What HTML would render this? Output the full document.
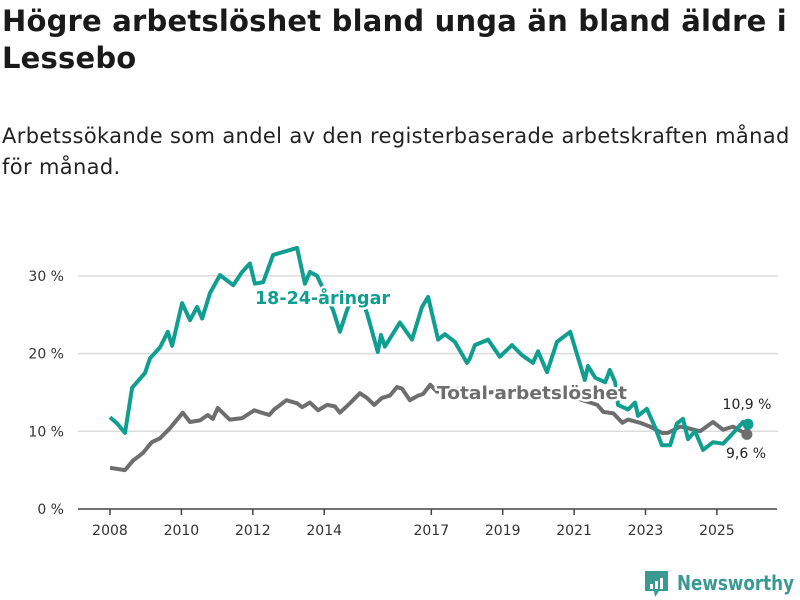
<!DOCTYPE html>
<html><head><meta charset="utf-8">
<style>
body{margin:0;background:#fff;width:800px;height:600px;overflow:hidden;font-family:"DejaVu Sans","Liberation Sans",sans-serif;}
#title{position:absolute;left:2px;top:3px;font-size:29px;font-weight:bold;color:#1a1a1a;line-height:37px;width:798px;margin:0;white-space:nowrap;letter-spacing:0.2px;}
#subtitle{position:absolute;left:2px;top:121px;font-size:21px;color:#222;line-height:31px;margin:0;white-space:nowrap;letter-spacing:0.35px;}
svg{position:absolute;left:0;top:0;}
</style></head><body>
<h1 id="title">Högre arbetslöshet bland unga än bland äldre i<br>Lessebo</h1>
<p id="subtitle">Arbetssökande som andel av den registerbaserade arbetskraften månad<br>för månad.</p>
<svg id="chart" width="800" height="600"></svg>
<script>
const yTicks=[0,10,20,30];
const yTickLabels=["0 %","10 %","20 %","30 %"];
const xTicks=[2008,2010,2012,2014,2017,2019,2021,2023,2025];
const youngDates=[2008.0,2008.2,2008.42,2008.62,2008.98,2009.12,2009.4,2009.62,2009.74,2010.02,2010.24,2010.44,2010.58,2010.8,2011.08,2011.45,2011.7,2011.92,2012.06,2012.29,2012.57,2013.24,2013.46,2013.6,2013.8,2014.25,2014.44,2014.64,2014.8,2015.0,2015.2,2015.5,2015.59,2015.7,2016.12,2016.46,2016.74,2016.91,2017.19,2017.38,2017.66,2018.0,2018.08,2018.22,2018.59,2018.92,2019.26,2019.54,2019.85,2019.99,2020.24,2020.52,2020.89,2021.3,2021.39,2021.59,2021.87,2022.0,2022.15,2022.23,2022.51,2022.71,2022.79,2023.04,2023.27,2023.46,2023.69,2023.88,2024.05,2024.19,2024.39,2024.61,2024.89,2025.17,2025.5,2025.73,2025.87];
const youngValues=[11.8,11.0,9.8,15.6,17.5,19.4,20.8,22.8,21.0,26.5,24.3,26.0,24.5,27.8,30.1,28.8,30.5,31.6,29.0,29.2,32.7,33.6,29.0,30.5,30.0,25.6,22.8,25.6,27.5,27.5,25.2,20.2,22.4,20.9,24.0,21.8,26.0,27.3,21.8,22.5,21.5,18.8,19.4,21.1,21.8,19.6,21.1,19.8,18.8,20.3,17.6,21.5,22.8,16.6,18.4,16.9,16.3,17.9,16.3,13.4,12.8,13.7,12.0,12.9,10.5,8.2,8.2,11.0,11.6,9.0,10.0,7.6,8.6,8.4,10.0,11.2,10.9];
const totalDates=[2008.0,2008.42,2008.64,2008.92,2009.17,2009.4,2009.68,2010.04,2010.24,2010.52,2010.74,2010.88,2011.02,2011.35,2011.71,2012.04,2012.46,2012.6,2012.94,2013.24,2013.38,2013.6,2013.83,2014.08,2014.3,2014.44,2014.72,2015.0,2015.2,2015.4,2015.62,2015.84,2016.04,2016.18,2016.4,2016.63,2016.77,2016.97,2017.16,2017.8,2018.64,2019.48,2020.2,2020.9,2021.65,2021.82,2022.1,2022.35,2022.51,2022.85,2023.13,2023.46,2023.63,2023.97,2024.19,2024.53,2024.89,2025.17,2025.45,2025.84];
const totalValues=[5.3,5.0,6.2,7.2,8.6,9.1,10.4,12.4,11.2,11.4,12.1,11.6,13.0,11.5,11.7,12.7,12.1,12.8,14.0,13.6,13.1,13.7,12.7,13.4,13.2,12.4,13.6,14.9,14.3,13.4,14.3,14.6,15.7,15.5,14.0,14.6,14.8,16.0,15.1,15.5,15.0,15.2,14.8,14.5,13.4,12.5,12.3,11.1,11.5,11.1,10.6,9.8,9.8,10.6,10.4,10.0,11.2,10.2,10.6,9.6];

const NS="http://www.w3.org/2000/svg";
const svg=document.getElementById('chart');
const X=t=>110+(t-2008)*35.7;
const Y=v=>509-v*7.77;
function el(tag,attrs,parent){const e=document.createElementNS(NS,tag);for(const k in attrs)e.setAttribute(k,attrs[k]);(parent||svg).appendChild(e);return e;}

yTicks.forEach((v,i)=>{
  if(v>0){const g=el('line',{x1:78,x2:778,y1:Y(v),y2:Y(v),stroke:'#dcdcdc','stroke-width':1.5});
  
  }
  const t=el('text',{x:64,y:Y(v)+5,'text-anchor':'end','font-size':14,fill:'#333'});
  t.textContent=yTickLabels[i];
  
  
});
const ax=el('line',{x1:78,x2:777,y1:509,y2:509,stroke:'#444','stroke-width':1.5});


xTicks.forEach(y=>{
  const tk=el('line',{x1:X(y),x2:X(y),y1:509,y2:515,stroke:'#444','stroke-width':1.5});
  
  
  const t=el('text',{x:X(y),y:535,'text-anchor':'middle','font-size':14,fill:'#333'});
  t.textContent=y;
  
  
});
function line(d,v,col,name){
  const p=d.map((t,i)=>(i?'L':'M')+X(t).toFixed(1)+','+Y(v[i]).toFixed(1)).join('');
  const e=el('path',{d:p,fill:'none',stroke:col,'stroke-width':4,'stroke-linejoin':'round'});
  
  
}
line(totalDates,totalValues,'#6e6e6e','total-line');
line(youngDates,youngValues,'#109e91','youth-line');
function label(x,y,txt,col,name,size,weight,anchor,len){
  const a={x:x,y:y,'font-size':size,'font-weight':weight,fill:col,stroke:'#fff','stroke-width':5,'paint-order':'stroke','stroke-linejoin':'round','text-anchor':anchor||'start'};
  if(len){a.textLength=len;a.lengthAdjust='spacingAndGlyphs';}
  const t=el('text',a);
  t.textContent=txt;
  
  
}
label(255,304,'18-24-åringar','#109e91','youth-series-label',18,'bold','start',135);
label(437,399,'Total arbetslöshet','#6e6e6e','total-series-label',18,'bold','start',190);
const dg=el('circle',{cx:X(totalDates[totalDates.length-1]),cy:Y(totalValues[totalValues.length-1]),r:5.5,fill:'#6e6e6e'});


const dy=el('circle',{cx:X(youngDates[youngDates.length-1]),cy:Y(youngValues[youngValues.length-1]),r:5.5,fill:'#109e91'});


label(747,409,'10,9 %','#222','youth-end-value',14,'normal','middle');
label(746,458,'9,6 %','#222','total-end-value',14,'normal','middle');

// logo
const lg=el('g',{});


el('path',{d:'M645,571 h23 v20 h-9 l-4,6 l-1,-6 h-9 z',fill:'#3a9a92'},lg);
[[650,584,3,5],[655,581,3,8],[660,578,3,11]].forEach(r=>el('rect',{x:r[0],y:r[1],width:r[2],height:r[3],fill:'#fff'},lg));
const lt=el('text',{x:677,y:590,'font-size':20,fill:'#3a9a92','font-weight':'bold',textLength:117,lengthAdjust:'spacingAndGlyphs'},lg);
lt.textContent='Newsworthy';
</script>
</body></html>
